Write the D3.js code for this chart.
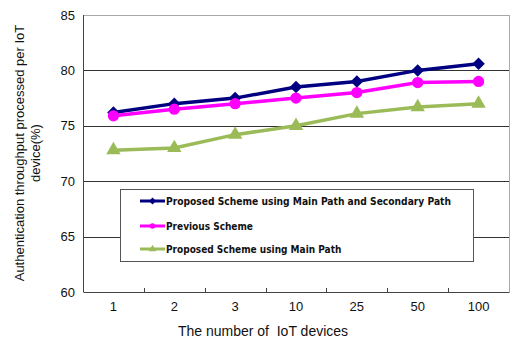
<!DOCTYPE html>
<html>
<head>
<meta charset="utf-8">
<script src="https://cdn.jsdelivr.net/npm/d3@7"></script>
<style>
  body { margin: 0; background: #fff; }
  text { font-family: Arial, "Liberation Sans", sans-serif; }
</style>
</head>
<body>
<script>
var categories = ["1", "2", "3", "10", "25", "50", "100"];
var seriesNames = [
    "Proposed Scheme using Main Path and Secondary Path",
    "Previous Scheme",
    "Proposed Scheme using Main Path"
];
var mainAndSecondary = [76.2, 77.0, 77.5, 78.5, 79.0, 80.0, 80.6];
var previous = [75.9, 76.5, 77.0, 77.5, 78.0, 78.9, 79.0];
var mainOnly = [72.8, 73.0, 74.2, 75.0, 76.1, 76.7, 77.0];
var yTicks = [60, 65, 70, 75, 80, 85];

var width = 512, height = 341,
    plotLeft = 83, plotRight = 509, plotTop = 15, plotBottom = 292;

var x = d3.scaleBand().domain(categories).range([plotLeft, plotRight]);
var y = d3.scaleLinear().domain([60, 85]).range([plotBottom, plotTop]);

// square turned 45 degrees gives the wide diamond
var series = [
    {name: seriesNames[0], values: mainAndSecondary, color: "#000080", symbol: d3.symbolSquare, size: 78, rot: 45},
    {name: seriesNames[1], values: previous, color: "#ff00ff", symbol: d3.symbolCircle, size: 100, rot: 0},
    {name: seriesNames[2], values: mainOnly, color: "#9bbb59", symbol: d3.symbolTriangle, size: 90, rot: 0}
];

var svg = d3.select("body").append("svg")
    .attr("width", width)
    .attr("height", height);

// gridlines
svg.selectAll("line.grid")
    .data(yTicks.slice(1, -1))
  .enter().append("line")
    .attr("x1", plotLeft).attr("x2", plotRight)
    .attr("y1", function(d){ return Math.round(y(d)) + 0.5; })
    .attr("y2", function(d){ return Math.round(y(d)) + 0.5; })
    .attr("stroke", "#333").attr("stroke-width", 1);

// frame: top and right light, left dark
svg.append("line").attr("x1", plotLeft).attr("x2", plotRight).attr("y1", plotTop + 0.5).attr("y2", plotTop + 0.5)
    .attr("stroke", "#aaa");
svg.append("line").attr("x1", plotRight + 0.5).attr("x2", plotRight + 0.5).attr("y1", plotTop).attr("y2", plotBottom)
    .attr("stroke", "#aaa");
svg.append("line").attr("x1", plotLeft + 0.5).attr("x2", plotLeft + 0.5).attr("y1", plotTop).attr("y2", plotBottom)
    .attr("stroke", "#444");

// y axis labels
var yAxis = d3.axisLeft(y).tickValues(yTicks).tickSize(0).tickPadding(8);
svg.append("g")
    .attr("transform", "translate(" + plotLeft + ",0)")
    .call(yAxis)
    .call(function(g){ g.select(".domain").remove(); })
    .selectAll("text")
    .attr("font-size", 13).attr("fill", "#111")
    .style("font-family", "Arial, 'Liberation Sans', sans-serif");

// x axis
var xAxis = d3.axisBottom(x).tickSize(0).tickPadding(10);
var gx = svg.append("g")
    .attr("transform", "translate(0," + plotBottom + ")")
    .call(xAxis);
gx.select(".domain").attr("stroke", "#444");
gx.selectAll("text").attr("font-size", 13).attr("fill", "#111")
    .style("font-family", "Arial, 'Liberation Sans', sans-serif");

// small upward ticks at band boundaries
svg.selectAll("line.xtick")
    .data(categories.slice(1))
  .enter().append("line")
    .attr("x1", function(d){ return Math.round(x(d)) + 0.5; })
    .attr("x2", function(d){ return Math.round(x(d)) + 0.5; })
    .attr("y1", plotBottom - 4).attr("y2", plotBottom)
    .attr("stroke", "#444");

// lines and markers
var line = d3.line()
    .x(function(d, i){ return x(categories[i]) + x.bandwidth() / 2; })
    .y(function(d){ return y(d); });

series.forEach(function(s){
    svg.append("path")
        .attr("d", line(s.values))
        .attr("fill", "none")
        .attr("stroke", s.color)
        .attr("stroke-width", 3.5);
    svg.selectAll(null)
        .data(s.values)
      .enter().append("path")
        .attr("d", d3.symbol().type(s.symbol).size(s.size))
        .attr("transform", function(d, i){
            return "translate(" + (x(categories[i]) + x.bandwidth() / 2) + "," + y(d) + ") rotate(" + s.rot + ")";
        })
        .attr("fill", s.color);
});

// legend
var lg = svg.append("g");
lg.append("rect")
    .attr("x", 120.5).attr("y", 189.5)
    .attr("width", 353).attr("height", 72)
    .attr("fill", "#fff").attr("stroke", "#555");

var legendY = [201, 226, 249];
series.forEach(function(s, i){
    lg.append("line")
        .attr("x1", 140).attr("x2", 165)
        .attr("y1", legendY[i]).attr("y2", legendY[i])
        .attr("stroke", s.color).attr("stroke-width", 3);
    lg.append("path")
        .attr("d", d3.symbol().type(s.symbol).size(24))
        .attr("transform", "translate(152.5," + legendY[i] + ") rotate(" + s.rot + ")")
        .attr("fill", s.color);
    var t = lg.append("text")
        .attr("x", 166).attr("y", legendY[i] + 3.5)
        .attr("font-size", 10).attr("font-weight", "bold")
        .style("font-family", "'DejaVu Sans Condensed', 'Liberation Sans Narrow', sans-serif")
        .attr("fill", "#111")
        .text(s.name);
    if (i === 0) t.attr("textLength", 285).attr("lengthAdjust", "spacingAndGlyphs");
});

// axis titles
svg.append("text")
    .attr("x", 263).attr("y", 336)
    .attr("text-anchor", "middle")
    .attr("font-size", 14).attr("fill", "#111")
    .style("white-space", "pre")
    .text("The number of  IoT devices");

var yt = svg.append("text")
    .attr("transform", "translate(24,153) rotate(-90)")
    .attr("text-anchor", "middle")
    .attr("font-size", 13).attr("fill", "#111");
yt.append("tspan").attr("x", 0).attr("y", 0).text("Authentication throughput processed per IoT");
yt.append("tspan").attr("x", 0).attr("y", 16).text("device(%)");
</script>
</body>
</html>
